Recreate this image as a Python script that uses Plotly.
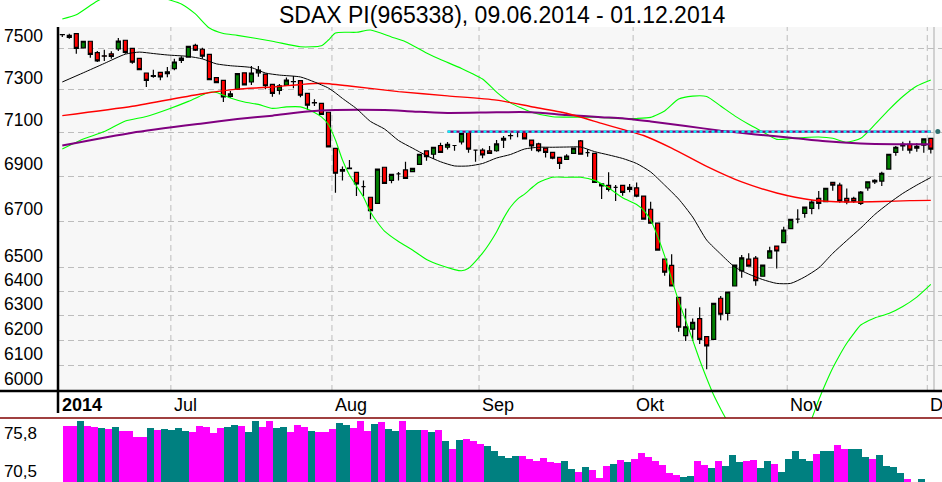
import plotly.graph_objects as go

# ---------------- data ----------------
title_text = "SDAX PI(965338), 09.06.2014 - 01.12.2014"

opens = [7566, 7562, 7570, 7501, 7533, 7477, 7462, 7472, 7495, 7538,
         7498, 7450, 7379, 7363, 7382, 7376, 7400, 7440, 7456, 7513,
         7494, 7469, 7357, 7344, 7268, 7301, 7380, 7336, 7380, 7374,
         7325, 7296, 7320, 7337, 7342, 7282, 7238, 7235, 7193, 7026,
         6923, 6934, 6917, 6853, 6806, 6779, 6940, 6881, 6910, 6928,
         6920, 6953, 7014, 6999, 7039, 7031, 7039, 7055, 7100, 7018,
         7018, 7015, 7015, 7064, 7084, 7102, 7101, 7064, 7046, 7027,
         7008, 6985, 6976, 7003, 7060, 7006, 7003, 6865, 6859, 6850,
         6859, 6841, 6848, 6811, 6753, 6692, 6537, 6511, 6377, 6220,
         6246, 6289, 6216, 6205, 6373, 6311, 6424, 6488, 6537, 6542,
         6465, 6542, 6593, 6608, 6668, 6710, 6735, 6757, 6801, 6786,
         6872, 6860, 6801, 6801, 6779, 6848, 6881, 6878, 6932, 7008,
         7044, 7044, 7027, 7041, 7072]
highs = [7569, 7570, 7571, 7534, 7534, 7485, 7492, 7484, 7549, 7539,
         7500, 7451, 7379, 7395, 7384, 7408, 7448, 7460, 7510, 7521,
         7501, 7471, 7360, 7345, 7293, 7377, 7381, 7413, 7413, 7376,
         7326, 7326, 7358, 7365, 7343, 7284, 7254, 7236, 7194, 7027,
         6943, 6973, 6919, 6880, 6807, 6934, 6941, 6910, 6919, 6965,
         6937, 7001, 7015, 7032, 7052, 7055, 7039, 7096, 7103, 7018,
         7026, 7037, 7064, 7083, 7095, 7102, 7103, 7066, 7052, 7029,
         7009, 6987, 6999, 7029, 7064, 7022, 7005, 6866, 6917, 6860,
         6860, 6865, 6872, 6811, 6786, 6693, 6538, 6558, 6378, 6331,
         6290, 6336, 6216, 6353, 6382, 6400, 6514, 6555, 6562, 6551,
         6514, 6590, 6595, 6677, 6710, 6753, 6763, 6794, 6834, 6847,
         6874, 6871, 6845, 6808, 6834, 6876, 6886, 6920, 7000, 7037,
         7056, 7061, 7049, 7072, 7073]
lows = [7554, 7545, 7472, 7500, 7453, 7432, 7437, 7448, 7485, 7472,
        7424, 7393, 7312, 7356, 7344, 7359, 7392, 7427, 7453, 7485,
        7448, 7344, 7331, 7241, 7261, 7300, 7319, 7322, 7361, 7301,
        7266, 7277, 7318, 7306, 7263, 7203, 7222, 7180, 7032, 6826,
        6880, 6934, 6812, 6812, 6709, 6778, 6867, 6868, 6880, 6889,
        6918, 6952, 6970, 6977, 7007, 7021, 7015, 7044, 7006, 6965,
        6981, 7002, 7011, 7028, 7067, 7077, 7066, 7015, 7008, 6984,
        6976, 6932, 6973, 7002, 6998, 6988, 6872, 6798, 6831, 6789,
        6813, 6828, 6806, 6709, 6691, 6575, 6467, 6423, 6236, 6198,
        6198, 6186, 6085, 6204, 6283, 6281, 6423, 6459, 6507, 6425,
        6463, 6541, 6498, 6606, 6667, 6692, 6716, 6731, 6753, 6785,
        6835, 6782, 6775, 6781, 6772, 6835, 6865, 6856, 6931, 6992,
        7015, 7003, 7011, 7006, 7003]
closes = [7565, 7552, 7498, 7533, 7469, 7437, 7460, 7459, 7534, 7479,
          7431, 7395, 7344, 7366, 7360, 7385, 7432, 7451, 7508, 7489,
          7460, 7347, 7333, 7265, 7280, 7376, 7322, 7378, 7393, 7318,
          7282, 7317, 7345, 7338, 7273, 7226, 7237, 7183, 7033, 6913,
          6930, 6936, 6865, 6853, 6747, 6932, 6868, 6908, 6910, 6890,
          6935, 6999, 6988, 7031, 7008, 7044, 7039, 7095, 7022, 7018,
          6996, 7003, 7046, 7072, 7085, 7102, 7069, 7037, 7015, 7008,
          6981, 6958, 6991, 7027, 6999, 7006, 6872, 6856, 6841, 6850,
          6828, 6850, 6811, 6710, 6692, 6576, 6482, 6424, 6254, 6256,
          6274, 6205, 6179, 6352, 6307, 6399, 6512, 6543, 6508, 6446,
          6512, 6573, 6572, 6662, 6709, 6710, 6762, 6785, 6779, 6846,
          6860, 6789, 6785, 6788, 6829, 6875, 6874, 6913, 6999, 7031,
          7037, 7018, 7035, 7069, 7022]

# moving averages / bands (trading-day index, value)
black_idx = [0, 3, 6, 9, 11, 13, 15, 18, 20, 22, 24, 27, 29, 31, 34, 36, 38, 39, 40, 42,
             44, 46, 48, 50, 52, 54, 56, 58, 60, 62, 64, 66, 68, 70, 72, 74, 76, 78, 80, 82,
             84, 86, 88, 90, 92, 94, 96, 98, 100, 102, 104, 106, 108, 110, 112, 114, 116,
             118, 120, 122, 124]
black_vals = [7336, 7380, 7425, 7470, 7480, 7473, 7466, 7459, 7447, 7423, 7414, 7405, 7379,
              7369, 7360, 7336, 7307, 7284, 7258, 7210, 7150, 7115, 7062, 7027, 6993, 6965,
              6946, 6946, 6957, 6982, 6998, 7023, 7031, 7031, 7032, 7032, 7011, 6996, 6980,
              6957, 6919, 6860, 6798, 6719, 6619, 6559, 6504, 6474, 6451, 6435, 6435, 6462,
              6500, 6562, 6617, 6671, 6730, 6779, 6823, 6860, 6894]

red_idx = [0, 10, 20, 25, 30, 34, 37, 41, 48, 55, 62, 67, 72, 77, 80, 83, 87, 92, 97, 102,
           107, 112, 117, 121, 124]
red_vals = [7177, 7221, 7280, 7302, 7312, 7324, 7330, 7317, 7290, 7270, 7250, 7219, 7188,
            7141, 7113, 7085, 7027, 6944, 6874, 6825, 6794, 6785, 6787, 6791, 6792]

purple_idx = [0, 10, 20, 25, 30, 35, 39, 46, 50, 55, 62, 67, 72, 77, 80, 84, 89, 94, 99,
              104, 109, 114, 119, 124]
purple_vals = [7039, 7098, 7141, 7161, 7177, 7196, 7203, 7203, 7197, 7190, 7193, 7193, 7180,
               7170, 7165, 7150, 7129, 7107, 7090, 7075, 7058, 7048, 7045, 7045]

upper_idx = [0, 2, 5, 8, 11, 14, 17, 19, 21, 23, 25, 30, 34, 37, 38, 39, 42, 44, 47, 49, 52,
             54, 57, 60, 62, 64, 67, 70, 73, 76, 79, 82, 84, 86, 88, 90, 92, 94, 96, 98, 100,
             102, 104, 106, 108, 110, 112, 114, 116, 118, 120, 122, 124]
upper_vals = [7643, 7664, 7733, 7778, 7798, 7753, 7718, 7668, 7598, 7571, 7562, 7533, 7506,
              7511, 7539, 7574, 7577, 7588, 7554, 7531, 7476, 7444, 7401, 7350, 7288, 7237,
              7193, 7172, 7170, 7170, 7164, 7164, 7169, 7199, 7255, 7269, 7267, 7222, 7176,
              7137, 7102, 7067, 7071, 7076, 7078, 7072, 7054, 7072, 7135, 7204, 7267, 7317,
              7346]

lower_idx = [0, 3, 6, 9, 12, 15, 18, 20, 21, 22, 24, 26, 28, 30, 32, 34, 36, 37, 38, 39,
             40, 41, 42, 43, 44, 45, 46, 48, 50, 52, 54, 56, 57, 58, 60, 62, 63, 64, 65, 66,
             67, 68, 70, 72, 74, 76, 78, 80, 82, 83, 84, 85, 86, 87, 88, 89, 90, 91, 92, 93,
             94, 95, 96, 98, 100, 102, 104, 106, 107, 108, 109, 110, 111, 112, 113, 114, 116,
             118, 120, 122, 124]
lower_vals = [7023, 7069, 7103, 7152, 7173, 7206, 7244, 7274, 7287, 7286, 7260, 7241, 7230,
              7211, 7218, 7218, 7192, 7171, 7136, 7064, 6973, 6905, 6856, 6807, 6741, 6695,
              6658, 6613, 6576, 6536, 6511, 6493, 6488, 6499, 6563, 6654, 6713, 6763, 6798,
              6820, 6847, 6872, 6895, 6895, 6895, 6881, 6847, 6804, 6774, 6748, 6706, 6635,
              6551, 6453, 6362, 6282, 6202, 6122, 6050, 5984, 5930, 5880, 5827, 5755, 5718,
              5718, 5755, 5831, 5892, 5965, 6030, 6090, 6142, 6189, 6228, 6263, 6292, 6310,
              6339, 6378, 6431]

resistance_level = 7103
resistance_start = 55
resistance_end = 124
marker_idx = 125

# y axis ticks
y_ticks = [6000, 6100, 6200, 6300, 6400, 6500, 6700, 6900, 7100, 7300, 7500]
y_tick_text = [str(v) for v in y_ticks]

# month starts (trading-day index) and labels
month_idx = [16, 39, 60, 82, 104, 124]
month_labels = ["Jul", "Aug", "Sep", "Okt", "Nov", "D"]
year_label = "2014"

# lower indicator panel
ind_vals = [76.82, 76.82, 77.52, 76.82, 76.64, 76.50, 76.36, 76.64, 76.08, 76.08,
            75.24, 75.24, 76.50, 76.22, 76.36, 76.22, 76.50, 76.08, 75.94, 76.78,
            76.64, 75.80, 76.50, 76.64, 76.92, 76.78, 75.94, 77.47, 76.64, 77.47,
            76.50, 76.64, 75.94, 76.92, 76.64, 76.08, 75.94, 75.94, 76.36, 77.19,
            76.92, 76.50, 77.47, 76.08, 77.06, 77.33, 76.36, 76.08, 77.47, 76.22,
            76.22, 76.22, 75.94, 76.22, 74.68, 73.57, 74.82, 74.96, 74.68, 74.27,
            73.99, 73.29, 72.59, 72.31, 72.59, 72.59, 72.17, 71.89, 72.31, 71.76,
            71.62, 71.89, 70.78, 70.36, 71.06, 70.64, 69.52, 71.20, 71.48, 72.03,
            71.76, 72.17, 73.01, 72.45, 71.89, 71.34, 70.22, 69.94, 69.66, 69.80,
            71.89, 71.34, 70.92, 71.89, 71.20, 72.73, 71.76, 71.89, 72.03, 70.92,
            71.89, 71.48, 70.36, 72.17, 73.29, 72.17, 71.89, 72.87, 73.29, 73.29,
            74.13, 73.57, 73.57, 73.57, 72.45, 72.17, 72.73, 71.20, 71.06, 70.22,
            69.38, 68.80, 69.38, 68.80, 68.80]
ind_up = "MMTMMTMTMMMMTMTTTTMMMMMTTMTTMMTTMMMTMMMTTMMMTMTTMTTMTMTMTMMMTTTTTMMMMMMTTMTMMMTMTMMMMMMMTTMMTMTTTMMTTMTTTTTMTTMMTTTMTTTTMMTTT"
ind_tick_vals = [70.5, 75.8]
ind_tick_text = ["70,5", "75,8"]

# ---------------- layout helpers ----------------
W, H = 942, 482
ML = 58
PW = W - ML


def fx(px):
    return (px - ML) / PW


def fy(py):
    return 1 - py / H


n = len(opens)
xs = list(range(n))
X0, STEP = 62.3, 7.004
x_range = [(ML - X0) / STEP, (W - X0) / STEP]
B0 = 66.8
x2_range = [(ML - B0) / STEP, (W - B0) / STEP]

FONT = "Liberation Sans, Arial, sans-serif"

fig = go.Figure()

line_specs = [
    (upper_idx, upper_vals, "#00FF00", 1.1),
    (lower_idx, lower_vals, "#00FF00", 1.1),
    (purple_idx, purple_vals, "#800080", 2),
    (red_idx, red_vals, "#FF0000", 1.4),
    (black_idx, black_vals, "#000000", 1),
]
for ix, vals, col, w in line_specs:
    fig.add_trace(go.Scatter(x=ix, y=vals, mode="lines",
                             line=dict(color=col, width=w, shape="spline", smoothing=0.6),
                             hoverinfo="skip", xaxis="x", yaxis="y"))

# resistance line (purple under cyan dashes)
fig.add_trace(go.Scatter(x=[resistance_start, resistance_end], y=[resistance_level] * 2,
                         mode="lines", line=dict(color="#800080", width=2.4),
                         xaxis="x", yaxis="y", hoverinfo="skip"))
fig.add_trace(go.Scatter(x=[resistance_start, resistance_end], y=[resistance_level] * 2,
                         mode="lines", line=dict(color="#00FFFF", width=2.4, dash="3px,3px"),
                         xaxis="x", yaxis="y", hoverinfo="skip"))
fig.add_trace(go.Scatter(x=[marker_idx], y=[resistance_level], mode="markers",
                         marker=dict(color="#2F6F6F", size=5), cliponaxis=False,
                         xaxis="x", yaxis="y", hoverinfo="skip"))

fig.add_trace(go.Candlestick(
    x=xs, open=opens, high=highs, low=lows, close=closes,
    increasing=dict(line=dict(color="black", width=1.2), fillcolor="#008000"),
    decreasing=dict(line=dict(color="black", width=1.2), fillcolor="#FF0000"),
    whiskerwidth=0, xaxis="x", yaxis="y", hoverinfo="skip"))

bar_colors = ["#008080" if c == "T" else "#FF00FF" for c in ind_up[:len(ind_vals)]]
fig.add_trace(go.Bar(x=xs, y=ind_vals, marker=dict(color=bar_colors, line=dict(width=0)),
                     width=1.0, xaxis="x2", yaxis="y2", hoverinfo="skip"))

shapes = []
# plot background
shapes.append(dict(type="rect", xref="paper", yref="paper", x0=0, x1=1, y0=fy(391), y1=fy(27),
                   fillcolor="#F7F7F7", line=dict(width=0), layer="below"))
# month grid lines
for m in month_idx:
    shapes.append(dict(type="line", xref="x", yref="paper", x0=m - 0.5, x1=m - 0.5,
                       y0=fy(391), y1=fy(27), line=dict(color="#BDBDBD", width=1, dash="6px,4px"),
                       layer="below"))
# right border
shapes.append(dict(type="line", xref="paper", yref="paper", x0=fx(934), x1=fx(934),
                   y0=fy(391), y1=fy(27), line=dict(color="#C4C4C4", width=1.5), layer="below"))
# axis lines
shapes.append(dict(type="line", xref="paper", yref="paper", x0=fx(0), x1=1, y0=fy(391), y1=fy(391),
                   line=dict(color="black", width=2.5)))
shapes.append(dict(type="line", xref="paper", yref="paper", x0=fx(58), x1=fx(58), y0=fy(413), y1=fy(27),
                   line=dict(color="black", width=2.5)))
# separator
shapes.append(dict(type="line", xref="paper", yref="paper", x0=fx(0), x1=1, y0=fy(418), y1=fy(418),
                   line=dict(color="#800000", width=1.5)))

annotations = [
    dict(text=title_text, xref="paper", yref="paper", x=fx(502), y=fy(15), showarrow=False,
         xanchor="center", yanchor="middle", font=dict(family=FONT, size=23, color="black")),
    dict(text="<b>" + year_label + "</b>", xref="paper", yref="paper", x=fx(60), y=fy(405),
         showarrow=False, xanchor="left", yanchor="middle",
         font=dict(family=FONT, size=18, color="black")),
]
for m, lab in zip(month_idx, month_labels):
    annotations.append(dict(text=lab, xref="x", yref="paper", x=m - 0.5, y=fy(405), xshift=1,
                            showarrow=False, xanchor="left", yanchor="middle",
                            font=dict(family=FONT, size=18, color="black")))

ymin_log = 3.875061 - 370 / 3539
ymax_log = 3.875061 + 48 / 3539

fig.update_layout(
    width=W, height=H,
    margin=dict(l=ML, r=0, t=0, b=0, pad=0, autoexpand=False),
    paper_bgcolor="white", plot_bgcolor="white",
    showlegend=False, bargap=0, boxgap=0.18, hovermode=False,
    font=dict(family=FONT, color="black"),
    shapes=shapes, annotations=annotations,
    xaxis=dict(domain=[0, 1], range=x_range, showgrid=False, zeroline=False,
               showticklabels=False, rangeslider=dict(visible=False), anchor="y",
               automargin=False),
    yaxis=dict(domain=[fy(418), 1], type="log", range=[ymin_log, ymax_log],
               tickmode="array", tickvals=y_ticks, ticktext=y_tick_text,
               showgrid=True, gridcolor="#BDBDBD", griddash="6px,4px", gridwidth=1,
               zeroline=False, showline=False, ticks="", ticklabelshift=-12,
               ticklabelstandoff=14, tickfont=dict(family=FONT, size=17.5, color="black"),
               anchor="x", automargin=False),
    xaxis2=dict(domain=[0, 1], range=x2_range, showgrid=False, zeroline=False,
                showticklabels=False, anchor="y2", automargin=False),
    yaxis2=dict(domain=[0, fy(420)], range=[70.5 - 11 / 7.17, 70.5 + 51 / 7.17],
                tickmode="array", tickvals=ind_tick_vals, ticktext=ind_tick_text,
                showgrid=False, zeroline=False, showline=False, ticks="",
                ticklabelstandoff=20, tickfont=dict(family=FONT, size=17, color="black"),
                anchor="x2", automargin=False),
)

fig.write_html("out.html", config={"displayModeBar": False, "staticPlot": True},
               post_script="document.body.style.margin='0px';document.body.style.overflow='hidden';")
